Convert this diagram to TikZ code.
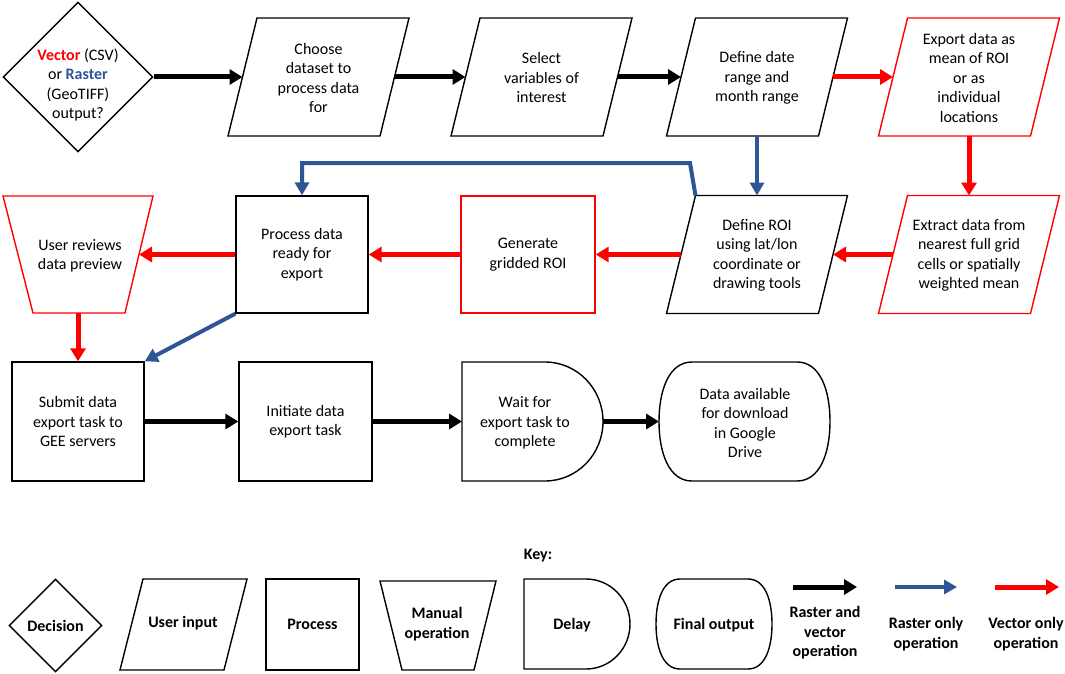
\documentclass[tikz,border=0pt]{standalone}
\usepackage{fontspec}
\setmainfont{Carlito}
\usetikzlibrary{arrows.meta,shapes.geometric,calc}
\definecolor{vred}{RGB}{255,0,0}
\definecolor{vblue}{RGB}{47,85,151}
% parallelogram: name, cx, cy, outline style, text
\newcommand\mkpara[5]{%
  \node[lbl] (#1) at (#2,{#3+1}) {#5};
  \draw[#4] ({#2-90.5},{#3+59}) -- ({#2-61.5},{#3-59}) -- ({#2+90.5},{#3-59}) -- ({#2+61.5},{#3+59}) -- cycle;
  \coordinate (#1w) at ({#2-76},#3);
  \coordinate (#1e) at ({#2+76},#3);
  \coordinate (#1n) at (#2,{#3-59});
  \coordinate (#1s) at (#2,{#3+59});
  \coordinate (#1tl) at ({#2-61.5},{#3-59});
}
\begin{document}
\begin{tikzpicture}[x=1pt,y=-1pt,
  lbl/.style={align=center,inner sep=0pt,font=\fontsize{16}{19.5}\selectfont},
  klbl/.style={align=center,inner sep=0pt,font=\bfseries\fontsize{16}{19.5}\selectfont},
  outl/.style={draw=black,line width=1.4pt},
  outr/.style={draw=vred,line width=1.4pt},
  arrk/.style={draw=black,line width=5pt,-{Triangle[length=13pt,width=15pt]}},
  arrr/.style={draw=vred,line width=5pt,-{Triangle[length=13pt,width=15pt]}},
  arrb/.style={draw=vblue,line width=4pt,-{Triangle[length=13pt,width=14pt]}},
]
\useasboundingbox (0,0) rectangle (1065,674);

% ---------- top row ----------
\node[diamond,outl,minimum width=150pt,minimum height=150pt,inner sep=0pt] (dec) at (78,77) {};
\node[lbl] (dect) at (78,85) {{\color{vred}\bfseries Vector} (CSV)\\or {\color{vblue}\bfseries Raster}\\(GeoTIFF)\\output?};
\mkpara{p1}{318.5}{77}{outl}{Choose\\dataset to\\process data\\for}
\mkpara{p2}{541.5}{77}{outl}{Select\\variables of\\interest}
\mkpara{p3}{757}{77}{outl}{Define date\\range and\\month range}
\mkpara{p4}{969}{77}{outr}{Export data as\\mean of ROI\\or as\\individual\\locations}

% ---------- middle row ----------
\draw[outr] (3,196) -- (153,196) -- (125,313) -- (33,313) -- cycle;
\node[lbl] (m1) at (80,256) {User reviews\\data preview};
\coordinate (m1e) at (139,254.5);
\coordinate (m1s) at (78,313);
\node[lbl,outl,rectangle,minimum width=132pt,minimum height=117pt] (b1) at (302,254.5) {Process data\\ready for\\export};
\node[lbl,outr,rectangle,minimum width=134pt,minimum height=117pt] (b2) at (528,254.5) {Generate\\gridded ROI};
\mkpara{p5}{757}{254.5}{outl}{Define ROI\\using lat/lon\\coordinate or\\drawing tools}
\mkpara{p6}{969}{254.5}{outr}{Extract data from\\nearest full grid\\cells or spatially\\weighted mean}

% ---------- bottom row ----------
\node[lbl,outl,rectangle,minimum width=132pt,minimum height=119pt] (b3) at (78,421.5) {Submit data\\export task to\\GEE servers};
\node[lbl,outl,rectangle,minimum width=133pt,minimum height=119pt] (b4) at (305.5,421.5) {Initiate data\\export task};
\draw[outl] (462,362) -- (545,362) arc[start angle=-90,end angle=90,x radius=58,y radius=59.5] -- (462,481) -- cycle;
\node[lbl] (d1) at (525,423) {Wait for\\export task to\\complete};
\coordinate (d1w) at (462,421.5);
\coordinate (d1e) at (603,421.5);
\draw[outl] (692,362) -- (797,362) .. controls (820,362) and (830,390) .. (830,421.5) .. controls (830,453) and (820,481) .. (797,481) -- (692,481) .. controls (669,481) and (659,453) .. (659,421.5) .. controls (659,390) and (669,362) .. (692,362) -- cycle;
\node[lbl] (f1) at (745,423) {Data available\\for download\\in Google\\Drive};
\coordinate (f1w) at (659,421.5);

% ---------- connectors ----------
\draw[arrk] (dec.east) -- (p1w);
\draw[arrk] (p1e) -- (p2w);
\draw[arrk] (p2e) -- (p3w);
\draw[arrr] (p3e) -- (p4w);
\draw[arrb] (p3s) -- (p5n);
\draw[arrr] (p4s) -- (p6n);
\coordinate (bend) at (690,163);
\draw[arrb] (p5tl) -- (bend) -| (b1.north);
\draw[arrr] (p6w) -- (p5e);
\draw[arrr] (p5w) -- (b2.east);
\draw[arrr] (b2.west) -- (b1.east);
\draw[arrr] (b1.west) -- (m1e);
\draw[arrr] (m1s) -- (b3.north);
\draw[arrb] (b1.south west) -- (b3.north east);
\draw[arrk] (b3.east) -- (b4.west);
\draw[arrk] (b4.east) -- (d1w);
\draw[arrk] (d1e) -- (f1w);

% ---------- key ----------
\node[klbl] (keyt) at (538,556) {Key:};
\node[diamond,outl,minimum width=93pt,minimum height=93pt,inner sep=0pt] (kdec) at (55.5,625.5) {};
\node[klbl] (kdect) at (55.5,625.5) {Decision};
\draw[outl] (120,670) -- (143,579) -- (247,579) -- (224,670) -- cycle;
\node[klbl] (kin) at (183,623) {User input};
\node[klbl,outl,rectangle,minimum width=93pt,minimum height=91pt] (kproc) at (312.5,624.5) {Process};
\draw[outl] (380,581) -- (496,581) -- (474,670) -- (402,670) -- cycle;
\node[klbl] (kman) at (437,624) {Manual\\operation};
\draw[outl] (524,579) -- (586,579) arc[start angle=-90,end angle=90,x radius=44,y radius=45] -- (524,669) -- cycle;
\node[klbl] (kdel) at (572,625) {Delay};
\draw[outl] (680,579) -- (748,579) .. controls (765,579) and (772,600) .. (772,624) .. controls (772,648) and (765,669) .. (748,669) -- (680,669) .. controls (663,669) and (656,648) .. (656,624) .. controls (656,600) and (663,579) .. (680,579) -- cycle;
\node[klbl] (kfin) at (714,625) {Final output};
\coordinate (ka1) at (793,587); \coordinate (ka2) at (857,587);
\coordinate (kb1) at (895,587); \coordinate (kb2) at (957,587);
\coordinate (kc1) at (995,587); \coordinate (kc2) at (1059,587);
\draw[arrk] (ka1) -- (ka2);
\draw[arrb] (kb1) -- (kb2);
\draw[arrr] (kc1) -- (kc2);
\node[klbl] (kal) at (825,633) {Raster and\\vector\\operation};
\node[klbl] (kbl) at (926,634) {Raster only\\operation};
\node[klbl] (kcl) at (1026,634) {Vector only\\operation};
\end{tikzpicture}
\end{document}
